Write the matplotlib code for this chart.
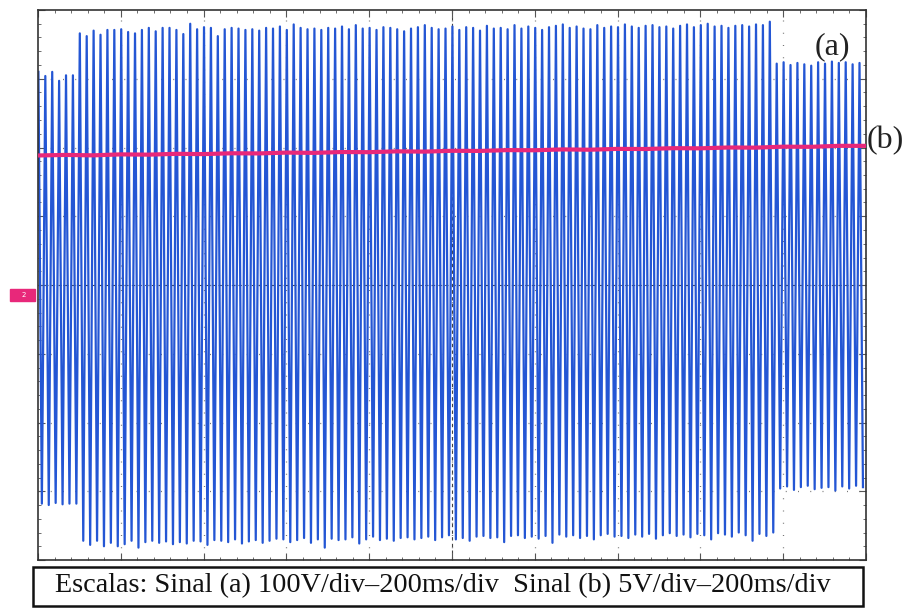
import numpy as np
import matplotlib
matplotlib.use('Agg')
import matplotlib.pyplot as plt
from matplotlib.patches import Rectangle

# Sinal (a): picos por ciclo em V (100 V/div), 60 Hz, 120 ciclos em 2 s
freq = 60.0
tops_left = [310, 304, 310, 297, 305, 305]
bots_left = [-318, -320, -317, -319, -318, -318]

tops_high = [366, 362, 370, 364, 371, 371, 372, 368, 366, 371,
             374, 369, 374, 374, 371, 365, 380, 372, 375, 374,
             362, 372, 374, 373, 371, 372, 370, 374, 373, 376,
             371, 379, 374, 372, 373, 371, 374, 373, 376, 372,
             378, 373, 374, 371, 375, 374, 372, 369, 373, 375,
             378, 374, 372, 373, 376, 371, 375, 374, 370, 377,
             373, 374, 372, 378, 373, 376, 374, 371, 375, 377,
             379, 374, 376, 373, 372, 378, 374, 376, 375, 379,
             376, 374, 377, 378, 375, 376, 373, 377, 379, 375,
             378, 380, 376, 377, 374, 377, 378, 376, 379, 378,
             383]
bots_high = [-372, -378, -372, -380, -375, -380, -377, -372, -382, -374,
             -372, -375, -373, -377, -374, -376, -372, -373, -378, -371,
             -372, -374, -370, -376, -373, -371, -375, -372, -369, -370,
             -374, -371, -368, -375, -370, -382, -369, -371, -370, -367,
             -376, -370, -366, -371, -369, -372, -368, -367, -370, -368,
             -366, -371, -367, -364, -370, -368, -372, -366, -365, -368,
             -367, -374, -365, -364, -368, -366, -369, -365, -375, -363,
             -366, -364, -368, -365, -370, -364, -362, -366, -365, -368,
             -363, -366, -362, -369, -364, -361, -365, -363, -367, -362,
             -364, -370, -361, -363, -366, -360, -364, -372, -362, -365,
             -360]

tops_right = [322, 324, 320, 323, 321, 319, 324, 322, 325, 323, 324, 321, 323]
bots_right = [-296, -293, -298, -294, -292, -297, -295, -294, -299, -293, -296, -292, -294]

# Sinal (b): V (5 V/div)
b_time = np.linspace(0, 2, 31)
b_volts = [9.42, 9.46, 9.43, 9.50, 9.48, 9.54, 9.52, 9.58, 9.57, 9.63, 9.61,
           9.67, 9.66, 9.72, 9.70, 9.76, 9.75, 9.81, 9.80, 9.86, 9.84,
           9.90, 9.89, 9.95, 9.94, 10.00, 9.99, 10.06, 10.05, 10.12, 10.12]

scale_a = 100.0
scale_b = 5.0

tops = np.array(tops_left + tops_high + tops_right) / scale_a
bots = np.array(bots_left + bots_high + bots_right) / scale_a
n = len(tops)
t_top = (np.arange(n) + 0.06) / freq
t_bot = (np.arange(n) + 0.56) / freq
t_a = np.empty(2 * n)
y_a = np.empty(2 * n)
t_a[0::2] = t_top
t_a[1::2] = t_bot
y_a[0::2] = tops
y_a[1::2] = bots

fig = plt.figure(figsize=(9.06, 6.15), dpi=100)
ax = fig.add_axes([38 / 906, 1 - 560 / 615, 828 / 906, 550 / 615])

# graticula
for gx in np.arange(0.2, 2.0, 0.2):
    ax.axvline(gx, color='#777777', lw=0.9, ls=(0, (0.8, 9)), zorder=1)
for gy in np.arange(-3, 4, 1):
    ax.axhline(gy, color='#777777', lw=0.9, ls=(0, (0.8, 9)), zorder=1)
ax.axhline(0, color='#444444', lw=0.8, ls=(0, (3, 3)), zorder=1)
ax.axvline(1.0, color='#444444', lw=0.8, ls=(0, (3, 3)), zorder=1)

ax.plot(t_a, y_a, color='#2456d4', lw=1.6, zorder=2)
ax.plot(b_time, np.array(b_volts) / scale_b, color='#e8287a', lw=3.0, zorder=3)

ax.set_xlim(0, 2)
ax.set_ylim(-4, 4)
ax.set_xticks(np.arange(0, 2.01, 0.2))
ax.set_xticks(np.arange(0, 2.01, 0.04), minor=True)
ax.set_yticks(np.arange(-4, 4.01, 1))
ax.set_yticks(np.arange(-4, 4.01, 0.2), minor=True)
ax.tick_params(which='both', direction='in', top=True, right=True,
               labelbottom=False, labelleft=False, color='#555555')
ax.tick_params(which='major', length=5, width=0.8)
ax.tick_params(which='minor', length=2.5, width=0.6)
for s in ax.spines.values():
    s.set_color('#333333')
    s.set_linewidth(1.2)

fig.text(0.919, 0.924, '(a)', family='Liberation Serif', fontsize=23,
         ha='center', va='center', color='#222222')
fig.text(0.957, 0.772, '(b)', family='Liberation Serif', fontsize=23,
         ha='left', va='center', color='#222222')

# marcador do canal
fig.patches.append(Rectangle((10 / 906, 1 - 301 / 615), 25 / 906, 12 / 615,
                             transform=fig.transFigure, color='#e8287a'))
fig.text(24 / 906, 1 - 295 / 615, '2', color='white', fontsize=5,
         ha='center', va='center')

# caixa das escalas
fig.patches.append(Rectangle((33 / 906, 1 - 606 / 615), 830 / 906, 39 / 615,
                             transform=fig.transFigure, facecolor='white',
                             edgecolor='#111111', lw=1.8))
fig.text(55 / 906, 1 - 586 / 615,
         'Escalas: Sinal (a) 100V/div\u2013200ms/div  Sinal (b) 5V/div\u2013200ms/div',
         family='Liberation Serif', fontsize=20.3, ha='left', va='center',
         color='#111111')

fig.savefig('out.png', dpi=100)
